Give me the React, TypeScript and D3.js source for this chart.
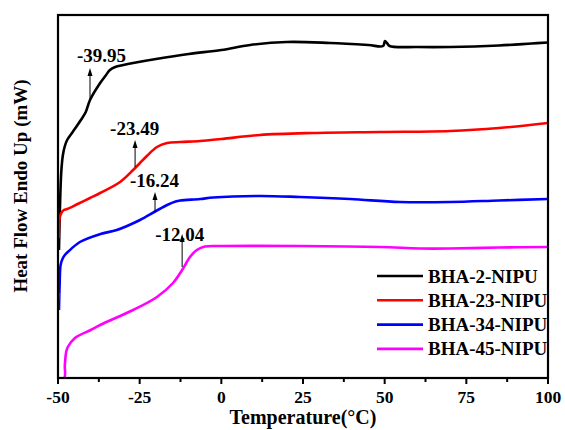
import React from "react";
import * as d3 from "d3";

// Temperature (°C) vs heat flow (arbitrary units)
const blackT = [-49.7, -49.0, -48.5, -47.9, -47.2, -45.5, -43, -41.5, -40.2, -37.1, -35.5, -34.1, -32.5, -30, -27, -20, -10, 0, 8.8, 20, 33.3, 45, 49.5, 50.1, 50.7, 51.5, 60, 70, 85, 95, 100];
const blackV = [128, 206, 223, 232, 238, 246, 258, 266, 278, 295, 302, 308, 311, 313, 315, 319, 324, 328, 333, 336, 335, 333, 332, 337, 335, 332, 331, 331, 332.5, 334.5, 335.5];

const redT = [-49.75, -49.5, -49.0, -48.2, -47.2, -44, -40.2, -37.1, -31, -27, -24.9, -22.8, -19.7, -16.6, -12.6, -6.5, 0, 11.8, 28, 48.6, 70, 85, 100];
const redV = [140, 160, 165, 168, 169, 174, 180, 185, 196, 208, 215, 222, 231, 235, 236, 237, 239, 243, 245, 246, 247, 250, 255];

const blueT = [-49.7, -49.5, -49.2, -48.5, -47.9, -47, -43.3, -37, -32, -24.9, -20, -16.6, -14, -12.6, -6.5, -2.5, 11.8, 24, 39.4, 54.7, 70, 85, 100];
const blueV = [68, 93, 113, 120, 123, 126, 136, 144, 148, 158, 167, 173, 176.5, 177.5, 179, 180.5, 182, 181, 179, 176, 176, 177.5, 179];

const magentaT = [-49.9, -49.9, -48.1, -47.9, -47.5, -47, -44.8, -40, -37.1, -27, -19.7, -14.8, -12, -9.6, -7.5, -5, 0, 24, 48.6, 60.8, 70, 85, 100];
const magentaV = [85, 0, 0, 13, 26, 31, 40, 48, 53, 68, 81, 95, 108, 121, 128, 131.5, 132, 132, 131, 129.5, 129.5, 130.5, 131];

const seriesNames = ["BHA-2-NIPU", "BHA-23-NIPU", "BHA-34-NIPU", "BHA-45-NIPU"];
const seriesColors = ["#000000", "#ff0000", "#0000ff", "#ff00ff"];
const seriesT = [blackT, redT, blueT, magentaT];
const seriesV = [blackV, redV, blueV, magentaV];

const xTicks = [-50, -25, 0, 25, 50, 75, 100];
const xMinorTicks = [-37.5, -12.5, 12.5, 37.5, 62.5, 87.5];

// annotations: label, arrow temperature, arrow base value, arrow tip value, text offsets
const annLabels = ["-39.95", "-23.49", "-16.24", "-12.04"];
const annT = [-40.2, -26.4, -20.3, -12.0];
const annBase = [278, 211, 166, 111];
const annTip = [310, 238, 186, 144];
const annDx = [-13, -25, -25, -27];
const annDy = [-6, -5, -5, 7];

const W = 565, H = 430;
const M = { left: 58, right: 548, top: 15, bottom: 378 };
const FONT = "'Liberation Serif', 'Times New Roman', serif";

export default function App() {
  const x = d3.scaleLinear().domain([-50, 100]).range([M.left, M.right]);
  const y = d3.scaleLinear().domain([0, 363]).range([M.bottom, M.top]);
  const line = d3
    .line<[number, number]>()
    .x((d) => x(d[0]))
    .y((d) => y(d[1]))
    .curve(d3.curveCatmullRom.alpha(0.5));

  return (
    <svg width={W} height={H} style={{ position: "absolute", left: 0, top: 0, background: "#fff" }} fontFamily={FONT}>
      <defs>
        <clipPath id="plot">
          <rect x={M.left} y={M.top} width={M.right - M.left} height={M.bottom - M.top} />
        </clipPath>
      </defs>
      <g clipPath="url(#plot)">
        {seriesNames.map((n, i) => (
          <path
            key={n}
            d={line(seriesT[i].map((t, j) => [t, seriesV[i][j]] as [number, number])) || ""}
            fill="none"
            stroke={seriesColors[i]}
            strokeWidth={2.6}
            strokeLinejoin="round"
          />
        ))}
      </g>
      {/* frame */}
      <rect x={M.left} y={M.top} width={M.right - M.left} height={M.bottom - M.top} fill="none" stroke="#000" strokeWidth={2.2} />
      {/* ticks */}
      {xTicks.map((t) => (
        <g key={t}>
          <line x1={x(t)} x2={x(t)} y1={M.bottom} y2={M.bottom + 6} stroke="#000" strokeWidth={2} />
          <text x={x(t)} y={403} textAnchor="middle" fontSize={17.5} fontWeight="bold">
            {t}
          </text>
        </g>
      ))}
      {xMinorTicks.map((t) => (
        <line key={t} x1={x(t)} x2={x(t)} y1={M.bottom} y2={M.bottom + 4} stroke="#000" strokeWidth={2} />
      ))}
      <text x={(M.left + M.right) / 2} y={424} textAnchor="middle" fontSize={20} fontWeight="bold">
        Temperature(°C)
      </text>
      <text
        transform={`translate(27, ${186}) rotate(-90)`}
        textAnchor="middle"
        fontSize={19}
        fontWeight="bold"
      >
        Heat Flow Endo Up (mW)
      </text>
      {/* annotations */}
      {annLabels.map((l, i) => {
        const ax = x(annT[i]);
        const yb = y(annBase[i]);
        const yt = y(annTip[i]);
        return (
          <g key={l}>
            <line x1={ax} x2={ax} y1={yb} y2={yt + 6} stroke="#000" strokeWidth={1} />
            <path d={`M${ax},${yt} L${ax - 2.5},${yt + 8} L${ax + 2.5},${yt + 8} Z`} fill="#000" />
            <text x={ax + annDx[i]} y={yt + annDy[i]} fontSize={19} fontWeight="bold">
              {l}
            </text>
          </g>
        );
      })}
      {/* legend */}
      {seriesNames.map((n, i) => {
        const ly = 276 + i * 24.3;
        return (
          <g key={n}>
            <line x1={377} x2={423} y1={ly} y2={ly} stroke={seriesColors[i]} strokeWidth={2.6} />
            <text x={428} y={ly + 6.5} fontSize={19} fontWeight="bold">
              {n}
            </text>
          </g>
        );
      })}
    </svg>
  );
}
